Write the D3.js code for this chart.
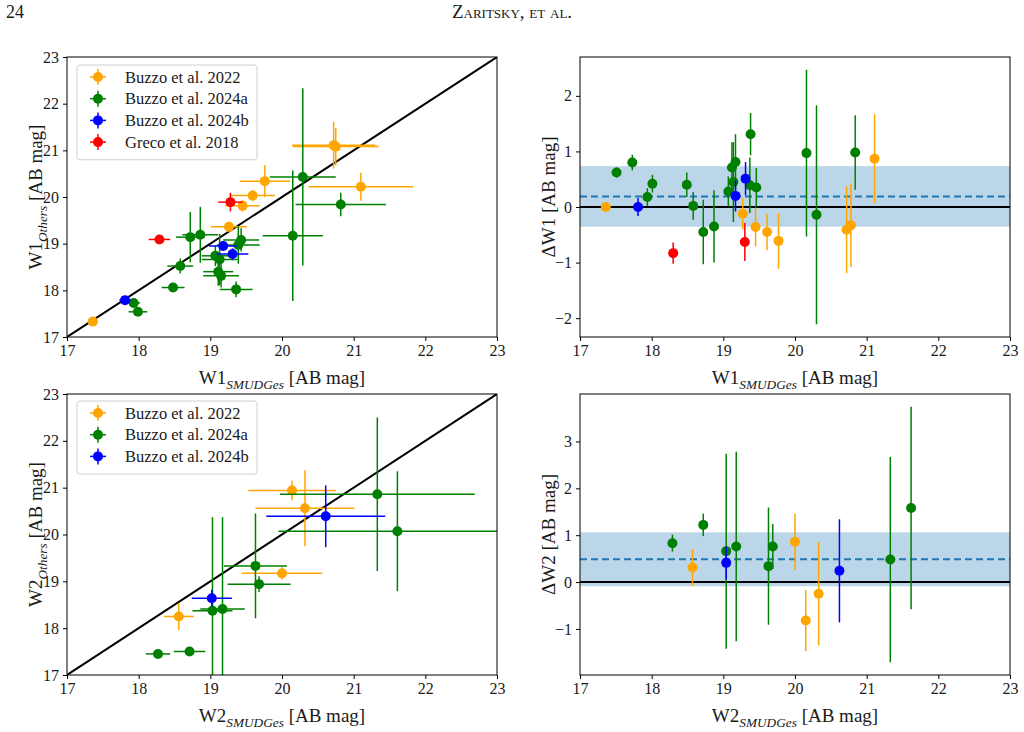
<!DOCTYPE html>
<html><head><meta charset="utf-8">
<script src="https://cdn.jsdelivr.net/npm/d3@7"></script>
<style>
body{margin:0;background:#fff}
svg text{font-family:"Liberation Serif","Times New Roman",serif;fill:#1a1a1a}
.tick text{font-size:16px}
</style>
</head><body>
<svg id="c" width="1024" height="732"></svg>
<script>
// ---------------- data ----------------
const surveyKeys   = ["B22", "B24a", "B24b", "G18"];
const surveyLabels = ["Buzzo et al. 2022", "Buzzo et al. 2024a", "Buzzo et al. 2024b", "Greco et al. 2018"];
const surveyColors = ["orange", "green", "blue", "red"];
const xTicks   = [17, 18, 19, 20, 21, 22, 23];
const magTicks = [17, 18, 19, 20, 21, 22, 23];
const dW1Ticks = [-2, -1, 0, 1, 2];
const dW2Ticks = [-1, 0, 1, 2, 3];

// W1: [survey, W1_SMUDGes, xerr, W1_Others, yerr]
const w1Points = [
  ["B22", 17.36, 0.07, 17.33, 0.05],
  ["B22", 19.26, 0.25, 19.36, 0.10],
  ["B22", 19.45, 0.24, 19.81, 0.12],
  ["B22", 19.59, 0.31, 20.03, 0.12],
  ["B22", 19.76, 0.35, 20.34, 0.34],
  ["B22", 20.72, 0.58, 21.11, 0.50],
  ["B22", 20.75, 0.60, 21.08, 0.40],
  ["B22", 21.10, 0.73, 20.22, 0.30],
  ["B24a", 17.93, 0.09, 17.73, 0.06],
  ["B24a", 17.99, 0.13, 17.54, 0.06],
  ["B24a", 18.48, 0.16, 18.06, 0.06],
  ["B24a", 18.58, 0.18, 18.52, 0.16],
  ["B24a", 18.72, 0.20, 19.14, 0.54],
  ["B24a", 18.86, 0.25, 19.19, 0.60],
  ["B24a", 19.07, 0.19, 18.74, 0.22],
  ["B24a", 19.13, 0.25, 18.66, 0.55],
  ["B24a", 19.11, 0.21, 18.40, 0.30],
  ["B24a", 19.15, 0.25, 18.31, 0.25],
  ["B24a", 19.36, 0.23, 18.02, 0.17],
  ["B24a", 19.39, 0.30, 18.97, 0.40],
  ["B24a", 19.43, 0.25, 19.08, 0.25],
  ["B24a", 20.15, 0.42, 19.17, 1.40],
  ["B24a", 20.29, 0.46, 20.43, 1.90],
  ["B24a", 20.82, 0.63, 19.84, 0.25],
  ["B24b", 17.81, 0.08, 17.79, 0.05],
  ["B24b", 19.18, 0.20, 18.95, 0.10],
  ["B24b", 19.31, 0.22, 18.78, 0.12],
  ["G18", 18.29, 0.15, 19.09, 0.07],
  ["G18", 19.28, 0.17, 19.89, 0.20]
];

// Delta W1: [survey, W1_SMUDGes, dW1, err]
const dW1Points = [
  ["B22", 17.36, 0.00, 0.05],
  ["B22", 19.27, -0.12, 0.28],
  ["B22", 19.45, -0.36, 0.35],
  ["B22", 19.61, -0.45, 0.33],
  ["B22", 19.77, -0.61, 0.50],
  ["B22", 20.72, -0.41, 0.78],
  ["B22", 20.78, -0.33, 0.75],
  ["B22", 21.11, 0.87, 0.80],
  ["B24a", 17.51, 0.62, 0.09],
  ["B24a", 17.73, 0.80, 0.14],
  ["B24a", 17.94, 0.18, 0.16],
  ["B24a", 18.01, 0.42, 0.16],
  ["B24a", 18.49, 0.40, 0.22],
  ["B24a", 18.58, 0.02, 0.25],
  ["B24a", 18.72, -0.45, 0.58],
  ["B24a", 18.87, -0.35, 0.65],
  ["B24a", 19.07, 0.28, 0.27],
  ["B24a", 19.12, 0.71, 0.45],
  ["B24a", 19.14, 0.45, 0.72],
  ["B24a", 19.17, 0.81, 0.50],
  ["B24a", 19.38, 1.31, 0.38],
  ["B24a", 19.37, 0.39, 0.50],
  ["B24a", 19.46, 0.35, 0.35],
  ["B24a", 20.16, 0.97, 1.50],
  ["B24a", 20.30, -0.14, 1.97],
  ["B24a", 20.84, 0.98, 0.67],
  ["B24b", 17.81, 0.00, 0.16],
  ["B24b", 19.17, 0.20, 0.28],
  ["B24b", 19.31, 0.51, 0.30],
  ["G18", 18.30, -0.83, 0.19],
  ["G18", 19.30, -0.63, 0.34]
];
const dW1Mean = 0.19, dW1Std = 0.545;

// W2: [survey, W2_SMUDGes, xerr, W2_Others, yerr]
const w2Points = [
  ["B22", 18.56, 0.21, 18.25, 0.29],
  ["B22", 20.00, 0.56, 19.17, 0.13],
  ["B22", 20.14, 0.61, 20.94, 0.21],
  ["B22", 20.32, 0.69, 20.56, 0.81],
  ["B24a", 18.27, 0.17, 17.45, 0.05],
  ["B24a", 18.71, 0.22, 17.50, 0.05],
  ["B24a", 19.03, 0.28, 18.37, 2.00],
  ["B24a", 19.17, 0.31, 18.41, 1.96],
  ["B24a", 19.63, 0.44, 19.33, 1.12],
  ["B24a", 19.68, 0.44, 18.94, 0.17],
  ["B24a", 21.33, 1.36, 20.86, 1.64],
  ["B24a", 21.61, 1.66, 20.07, 1.28],
  ["B24b", 19.02, 0.28, 18.64, 0.18],
  ["B24b", 20.61, 0.83, 20.39, 0.66]
];

// Delta W2: [survey, W2_SMUDGes, dW2, err]
const dW2Points = [
  ["B22", 18.57, 0.31, 0.39],
  ["B22", 20.00, 0.86, 0.60],
  ["B22", 20.15, -0.82, 0.65],
  ["B22", 20.33, -0.25, 1.10],
  ["B24a", 18.29, 0.83, 0.18],
  ["B24a", 18.72, 1.22, 0.24],
  ["B24a", 19.04, 0.66, 2.08],
  ["B24a", 19.18, 0.76, 2.02],
  ["B24a", 19.63, 0.34, 1.25],
  ["B24a", 19.69, 0.76, 0.48],
  ["B24a", 21.33, 0.48, 2.19],
  ["B24a", 21.62, 1.58, 2.16],
  ["B24b", 19.04, 0.41, 0.35],
  ["B24b", 20.62, 0.24, 1.10]
];
const dW2Mean = 0.486, dW2Std = 0.575;

// ---------------- drawing ----------------
const svg = d3.select("#c");
const bandBlue = "#1f77b4";
const intFmt = d3.format("d");

// header
svg.append("text").attr("x", 6).attr("y", 18).attr("font-size", 18).text("24");
svg.append("text").attr("x", 512).attr("y", 18).attr("text-anchor", "middle")
  .attr("font-size", 19).style("font-variant", "small-caps").text("Zaritsky, et al.");

function richText(sel, parts, size) {
  parts.forEach((p, i) => {
    const t = sel.append("tspan").text(p.t);
    if (p.sub) {
      t.attr("font-size", size * 0.7).attr("font-style", "italic").attr("dy", size * 0.25);
    } else if (i > 0 && parts[i - 1].sub) {
      t.attr("dy", -size * 0.25);
    }
  });
}

function extentPad(rows) {
  const lo = d3.min(rows, r => r.y - r.ye), hi = d3.max(rows, r => r.y + r.ye);
  const m = (hi - lo) * 0.05;
  return [lo - m, hi + m];
}

function makePanel(o) {
  const x = d3.scaleLinear().domain([17, 23]).range([o.left, o.left + o.width]);
  const y = d3.scaleLinear().domain(o.yDomain).range([o.top + o.height, o.top]);
  const g = svg.append("g");
  const id = "clip" + o.left + "_" + o.top;
  svg.append("clipPath").attr("id", id).append("rect")
    .attr("x", o.left).attr("y", o.top).attr("width", o.width).attr("height", o.height);
  const plot = g.append("g").attr("clip-path", `url(#${id})`);

  const ax = g.append("g").attr("transform", `translate(0,${o.top + o.height})`)
    .call(d3.axisBottom(x).tickValues(xTicks).tickFormat(intFmt).tickSize(4).tickPadding(4).tickSizeOuter(0));
  ax.select(".domain").remove();
  const ay = g.append("g").attr("transform", `translate(${o.left},0)`)
    .call(d3.axisLeft(y).tickValues(o.yTicks).tickFormat(intFmt).tickSize(4).tickPadding(4).tickSizeOuter(0));
  ay.select(".domain").remove();
  g.selectAll(".tick line").attr("stroke", "#000");

  const xl = g.append("text").attr("x", o.left + o.width / 2).attr("y", o.top + o.height + 47)
    .attr("text-anchor", "middle").attr("font-size", 19);
  richText(xl, o.xLabel, 19);
  const yl = g.append("text")
    .attr("transform", `translate(${o.left - o.yLabelGap},${o.top + o.height / 2}) rotate(-90)`)
    .attr("text-anchor", "middle").attr("font-size", 19);
  richText(yl, o.yLabel, 19);

  return {x, y, g, plot, o};
}

function frame(p) {
  p.g.append("rect").attr("x", p.o.left).attr("y", p.o.top)
    .attr("width", p.o.width).attr("height", p.o.height)
    .attr("fill", "none").attr("stroke", "#000").attr("stroke-width", 1);
}

function drawErrorbars(p, rows) {
  surveyKeys.forEach((k, i) => {
    const rs = rows.filter(r => r.s === k);
    if (!rs.length) return;
    const col = surveyColors[i];
    const gg = p.plot.append("g");
    gg.selectAll("line.h").data(rs.filter(r => r.xe > 0)).join("line").attr("class", "h")
      .attr("x1", r => p.x(r.x - r.xe)).attr("x2", r => p.x(r.x + r.xe))
      .attr("y1", r => p.y(r.y)).attr("y2", r => p.y(r.y))
      .attr("stroke", col).attr("stroke-width", 1.5);
    gg.selectAll("line.v").data(rs).join("line").attr("class", "v")
      .attr("x1", r => p.x(r.x)).attr("x2", r => p.x(r.x))
      .attr("y1", r => p.y(r.y - r.ye)).attr("y2", r => p.y(r.y + r.ye))
      .attr("stroke", col).attr("stroke-width", 1.5);
    gg.selectAll("circle").data(rs).join("circle")
      .attr("cx", r => p.x(r.x)).attr("cy", r => p.y(r.y)).attr("r", 5)
      .attr("fill", col);
  });
}

function legend(p, n, x0, y0) {
  const w = 180, rowH = 21.7, h = 12 + rowH * n - 4;
  const lg = p.g.append("g");
  lg.append("rect").attr("x", x0).attr("y", y0).attr("width", w).attr("height", h)
    .attr("rx", 3).attr("fill", "#fff").attr("fill-opacity", 0.8)
    .attr("stroke", "#d0d0d0").attr("stroke-width", 1);
  for (let i = 0; i < n; i++) {
    const cy = y0 + 12 + i * rowH, cx = x0 + 21;
    const col = surveyColors[i];
    lg.append("line").attr("x1", cx - 8).attr("x2", cx + 8).attr("y1", cy).attr("y2", cy)
      .attr("stroke", col).attr("stroke-width", 1.5);
    lg.append("line").attr("x1", cx).attr("x2", cx).attr("y1", cy - 8).attr("y2", cy + 8)
      .attr("stroke", col).attr("stroke-width", 1.5);
    lg.append("circle").attr("cx", cx).attr("cy", cy).attr("r", 5).attr("fill", col);
    lg.append("text").attr("x", x0 + 48).attr("y", cy + 5.5).attr("font-size", 16.5)
      .text(surveyLabels[i]);
  }
}

const toXY = rows => rows.map(r => ({s: r[0], x: r[1], xe: r[2], y: r[3], ye: r[4]}));
const toD  = rows => rows.map(r => ({s: r[0], x: r[1], xe: 0, y: r[2], ye: r[3]}));

// ---- top-left: W1 ----
const p1 = makePanel({left: 67, top: 57, width: 430, height: 280, yDomain: [17, 23], yTicks: magTicks, yLabelGap: 25,
  xLabel: [{t: "W1"}, {t: "SMUDGes", sub: true}, {t: " [AB mag]"}],
  yLabel: [{t: "W1"}, {t: "Others", sub: true}, {t: " [AB mag]"}]});
p1.plot.append("line").attr("x1", p1.x(17)).attr("y1", p1.y(17)).attr("x2", p1.x(23)).attr("y2", p1.y(23))
  .attr("stroke", "#000").attr("stroke-width", 2);
drawErrorbars(p1, toXY(w1Points));
frame(p1);
legend(p1, 4, 77, 65);

// ---- top-right: dW1 ----
const d1 = toD(dW1Points);
const p2 = makePanel({left: 580, top: 57, width: 430, height: 280, yDomain: extentPad(d1), yTicks: dW1Ticks, yLabelGap: 25,
  xLabel: [{t: "W1"}, {t: "SMUDGes", sub: true}, {t: " [AB mag]"}],
  yLabel: [{t: "ΔW1 [AB mag]"}]});
p2.plot.append("rect").attr("x", 580).attr("width", 430)
  .attr("y", p2.y(dW1Mean + dW1Std)).attr("height", p2.y(dW1Mean - dW1Std) - p2.y(dW1Mean + dW1Std))
  .attr("fill", bandBlue).attr("fill-opacity", 0.3);
p2.plot.append("line").attr("x1", 580).attr("x2", 1010).attr("y1", p2.y(0)).attr("y2", p2.y(0))
  .attr("stroke", "#000").attr("stroke-width", 2);
p2.plot.append("line").attr("x1", 580).attr("x2", 1010).attr("y1", p2.y(dW1Mean)).attr("y2", p2.y(dW1Mean))
  .attr("stroke", bandBlue).attr("stroke-width", 2).attr("stroke-dasharray", "7,4");
drawErrorbars(p2, d1);
frame(p2);

// ---- bottom-left: W2 ----
const p3 = makePanel({left: 67, top: 394, width: 430, height: 281, yDomain: [17, 23], yTicks: magTicks, yLabelGap: 25,
  xLabel: [{t: "W2"}, {t: "SMUDGes", sub: true}, {t: " [AB mag]"}],
  yLabel: [{t: "W2"}, {t: "Others", sub: true}, {t: " [AB mag]"}]});
p3.plot.append("line").attr("x1", p3.x(17)).attr("y1", p3.y(17)).attr("x2", p3.x(23)).attr("y2", p3.y(23))
  .attr("stroke", "#000").attr("stroke-width", 2);
drawErrorbars(p3, toXY(w2Points));
frame(p3);
legend(p3, 3, 77, 401);

// ---- bottom-right: dW2 ----
const d2 = toD(dW2Points);
const p4 = makePanel({left: 580, top: 394, width: 430, height: 281, yDomain: extentPad(d2), yTicks: dW2Ticks, yLabelGap: 25,
  xLabel: [{t: "W2"}, {t: "SMUDGes", sub: true}, {t: " [AB mag]"}],
  yLabel: [{t: "ΔW2 [AB mag]"}]});
p4.plot.append("rect").attr("x", 580).attr("width", 430)
  .attr("y", p4.y(dW2Mean + dW2Std)).attr("height", p4.y(dW2Mean - dW2Std) - p4.y(dW2Mean + dW2Std))
  .attr("fill", bandBlue).attr("fill-opacity", 0.3);
p4.plot.append("line").attr("x1", 580).attr("x2", 1010).attr("y1", p4.y(0)).attr("y2", p4.y(0))
  .attr("stroke", "#000").attr("stroke-width", 2);
p4.plot.append("line").attr("x1", 580).attr("x2", 1010).attr("y1", p4.y(dW2Mean)).attr("y2", p4.y(dW2Mean))
  .attr("stroke", bandBlue).attr("stroke-width", 2).attr("stroke-dasharray", "7,4");
drawErrorbars(p4, d2);
frame(p4);
</script>
</body></html>
